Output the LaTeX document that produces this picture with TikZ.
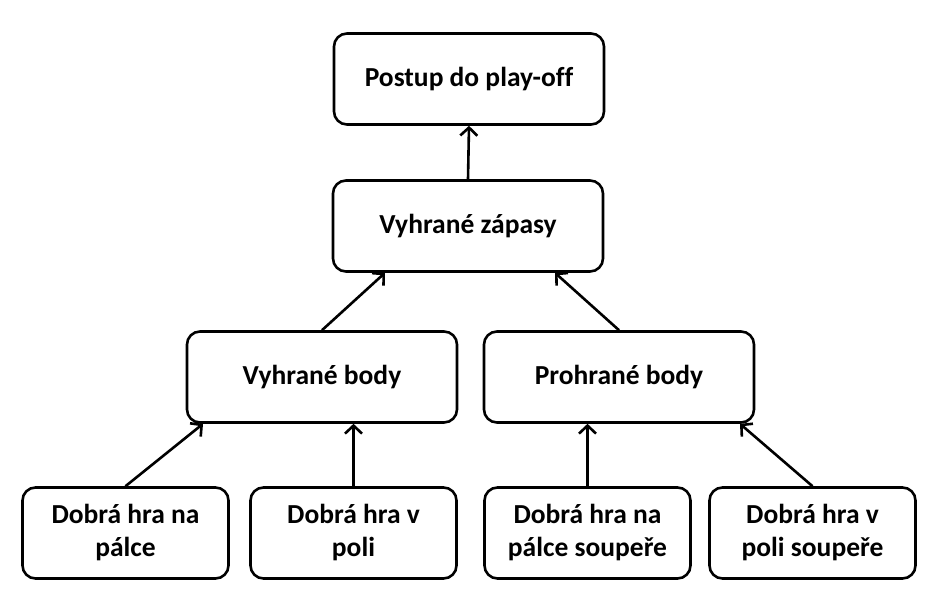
\documentclass[tikz,border=0pt]{standalone}
\usepackage{fontspec}
\setmainfont{Carlito}[Ligatures=NoCommon]
\usetikzlibrary{arrows.meta,calc}
\begin{document}
\begin{tikzpicture}[x=1pt,y=1pt,
  box/.style={draw=black, line width=2.6pt, rounded corners=13pt, fill=white,
    font=\bfseries\fontsize{27.5}{33}\selectfont, align=center, inner sep=0pt},
  wide/.style={box, minimum width=270pt, minimum height=91pt},
  small/.style={box, minimum width=206pt, minimum height=91pt},
  conn/.style={line width=2.6pt, -{Straight Barb[length=8pt,width=17pt,line width=2.6pt]}}]
\useasboundingbox (0,0) rectangle (942,-613);
\node[wide] (po) at (469,-79) {Postup do play-off};
\node[wide] (vz) at (468,-226) {Vyhrané zápasy};
\node[wide] (vb) at (322,-377) {Vyhrané body};
\node[wide] (pb) at (619,-377) {Prohrané body};
\node[small] (b1) at (125.5,-533) {Dobrá hra na\\pálce};
\node[small] (b2) at (353.5,-533) {Dobrá hra v\\poli};
\node[small] (b3) at (587.5,-533) {Dobrá hra na\\pálce soupeře};
\node[small] (b4) at (812.5,-533) {Dobrá hra v\\poli soupeře};
\draw[conn] (vz.north) -- (po.south);
\draw[conn] (vb.north) -- ($(vz.south)+(-83,0)$);
\draw[conn] (pb.north) -- ($(vz.south)+(87,0)$);
\draw[conn] (b1.north) -- ($(vb.south)+(-119,0)$);
\draw[conn] (b2.north) -- (b2.north |- vb.south);
\draw[conn] (b3.north) -- (b3.north |- pb.south);
\draw[conn] (b4.north) -- ($(pb.south)+(121,0)$);
\end{tikzpicture}
\end{document}
